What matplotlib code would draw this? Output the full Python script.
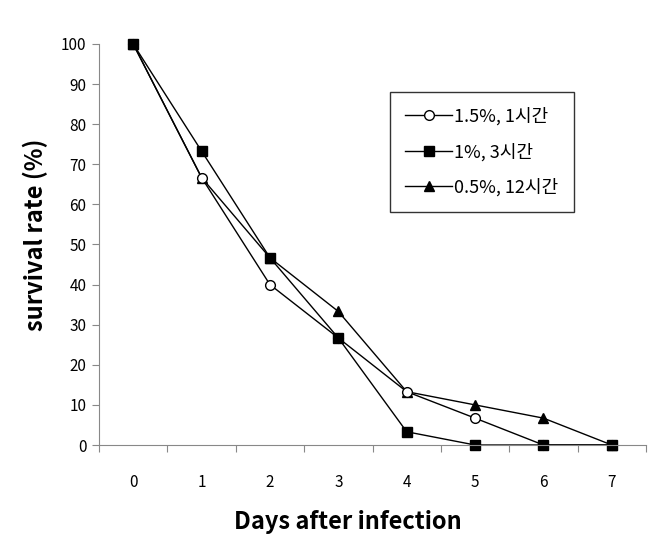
import matplotlib.pyplot as plt

plt.rcParams['font.family'] = ['Noto Sans CJK KR', 'DejaVu Sans']

days = [0, 1, 2, 3, 4, 5, 6, 7]
rate_15 = [100, 66.7, 40, 26.7, 13.3, 6.7, 0, 0]
rate_1 = [100, 73.3, 46.7, 26.7, 3.3, 0, 0, 0]
rate_05 = [100, 66.7, 46.7, 33.3, 13.3, 10, 6.7, 0]
labels = ['1.5%, 1시간', '1%, 3시간', '0.5%, 12시간']

fig = plt.figure(figsize=(6.7, 5.46), dpi=100)
ax = fig.add_axes([99 / 670, 1 - 445 / 546, 547 / 670, 401 / 546])

line3, = ax.plot(days, rate_05, color='black', lw=1, marker='^', ms=7,
                 mfc='black', mec='black', label=labels[2], clip_on=False)
line1, = ax.plot(days, rate_15, color='black', lw=1, marker='o', ms=7,
                 mfc='white', mec='black', label=labels[0], clip_on=False)
line2, = ax.plot(days, rate_1, color='black', lw=1, marker='s', ms=7,
                 mfc='black', mec='black', label=labels[1], clip_on=False)

ax.set_xlim(-0.5, 7.5)
ax.set_ylim(0, 100)
ax.set_yticks(range(0, 101, 10))
ax.set_xticks([d - 0.5 for d in days] + [7.5])
ax.set_xticklabels([])
ax.set_xticks(days, minor=True)
ax.set_xticklabels([str(d) for d in days], minor=True, fontsize=11)
ax.tick_params(axis='x', which='minor', length=0, pad=21)
ax.tick_params(axis='x', which='major', length=5, color='#888888')
ax.tick_params(axis='y', length=5, color='#888888', labelsize=11, pad=4)

for side in ['top', 'right']:
    ax.spines[side].set_visible(False)
for side in ['left', 'bottom']:
    ax.spines[side].set_color('#888888')

ax.set_xlabel('Days after infection', fontsize=17, fontweight='bold')
ax.xaxis.set_label_coords((348 - 99) / 547, -(522 - 445) / 401, transform=ax.transAxes)
ax.xaxis.label.set_va('center')
ax.set_ylabel('survival rate (%)', fontsize=17, fontweight='bold')
ax.yaxis.set_label_coords(-(99 - 35) / 547, (445 - 235) / 401, transform=ax.transAxes)
ax.yaxis.label.set_va('center')

leg = ax.legend(handles=[line1, line2, line3], loc='upper left',
                bbox_to_anchor=((390 - 99) / 547, 1 - (92 - 44) / 401),
                frameon=True, fancybox=False, edgecolor='black', fontsize=13,
                handlelength=2.6, labelspacing=0.95, borderpad=0.85,
                handletextpad=0.1, borderaxespad=0)
leg.get_frame().set_linewidth(1)

fig.savefig('out.png', dpi=100)
